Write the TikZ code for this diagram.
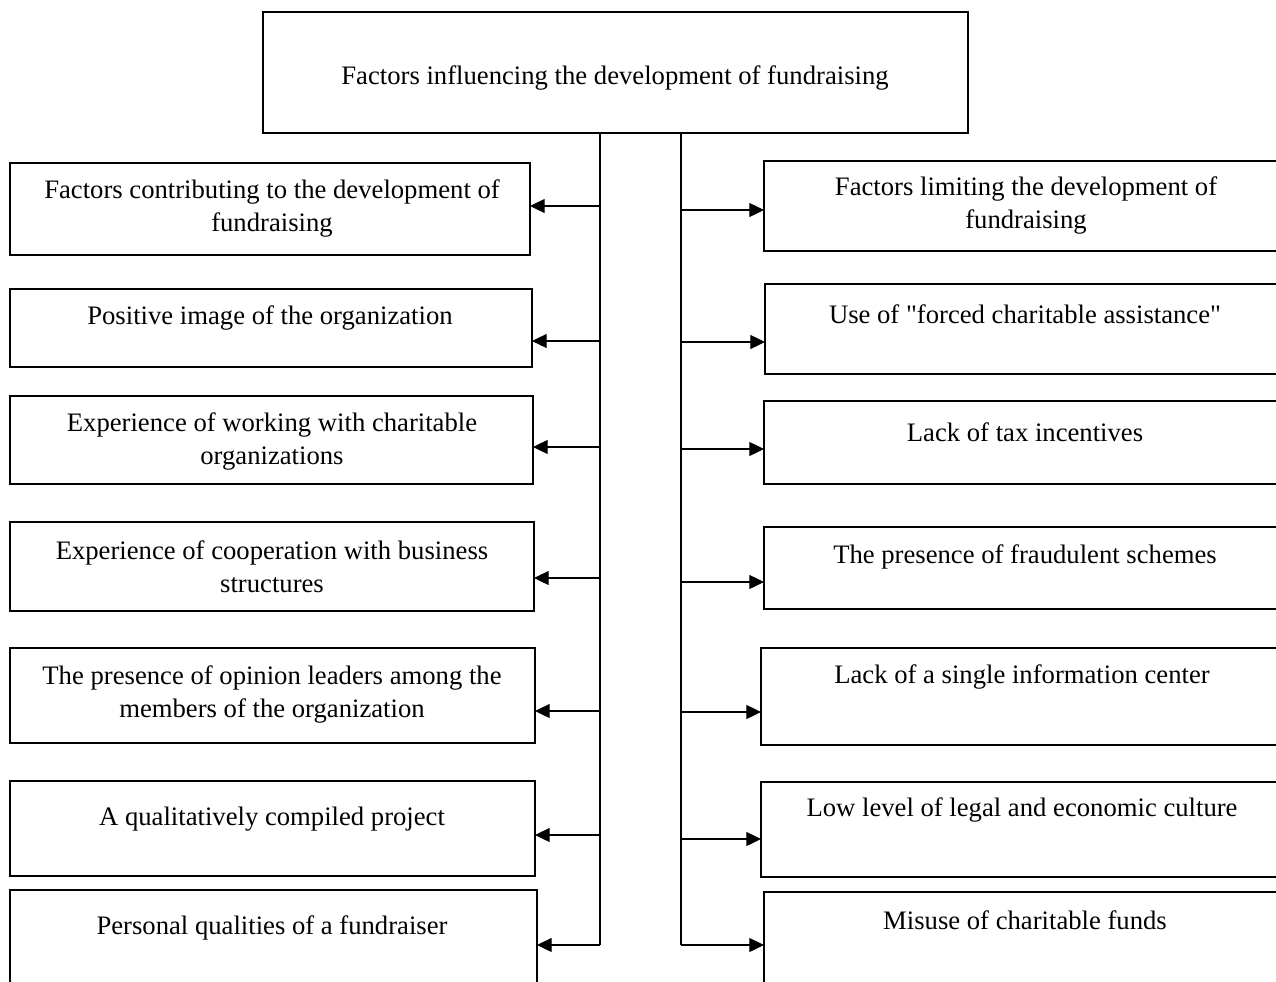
\documentclass[tikz,border=0pt]{standalone}
\usepackage{fontspec}
\setmainfont{Liberation Serif}
\usetikzlibrary{arrows.meta}
\newcommand\bx[5]{\node[box,minimum width=#4*0.75pt,minimum height=#5*0.75pt] (#1) at (#2,#3) {};}
\newcommand\sq{\XeTeXglyph\XeTeXcharglyph"0022\relax}
\begin{document}
\begin{tikzpicture}[x=0.75pt,y=-0.75pt,
 box/.style={draw,line width=1.7pt,anchor=north west,inner sep=0pt,outer sep=0pt},
 txt/.style={align=center,font=\fontsize{20}{24.75}\selectfont,inner sep=0pt},
 conn/.style={line width=0.9pt},
 arr/.style={conn,-{Triangle[length=11pt,width=10.5pt]}}]
\clip (0,0) rectangle (1276,981);
% top box
\bx{top}{263}{12}{705}{121}
\node[txt] (ttop) at (615,78) {Factors influencing the development of fundraising};
% left boxes
\bx{L1}{10}{163}{520}{92}
\bx{L2}{10}{289}{522}{78}
\bx{L3}{10}{396}{523}{88}
\bx{L4}{10}{522}{524}{89}
\bx{L5}{10}{648}{525}{95}
\bx{L6}{10}{781}{525}{95}
\bx{L7}{10}{890}{527}{130}
% right boxes
\bx{R1}{764}{161}{560}{90}
\bx{R2}{765}{284}{560}{90}
\bx{R3}{764}{401}{560}{83}
\bx{R4}{764}{527}{560}{82}
\bx{R5}{761}{648}{560}{97}
\bx{R6}{761}{782}{560}{95}
\bx{R7}{764}{892}{560}{130}
% texts
\node[txt] (tL1) at (272,208) {Factors contributing to the development of\\fundraising};
\node[txt] (tL2) at (270,318) {Positive image of the organization};
\node[txt] (tL3) at (272,441) {Experience of working with charitable\\organizations};
\node[txt] (tL4) at (272,567) {Experience of cooperation with business\\structures};
\node[txt] (tL5) at (272,694) {The presence of opinion leaders among the\\members of the organization};
\node[txt] (tL6) at (272,819) {A qualitatively compiled project};
\node[txt] (tL7) at (272,928) {Personal qualities of a fundraiser};
\node[txt] (tR1) at (1026,205) {Factors limiting the development of\\fundraising};
\node[txt] (tR2) at (1025,314) {Use of \sq forced charitable assistance\sq};
\node[txt] (tR3) at (1025,432) {Lack of tax incentives};
\node[txt] (tR4) at (1025,557) {The presence of fraudulent schemes};
\node[txt] (tR5) at (1022,677) {Lack of a single information center};
\node[txt] (tR6) at (1022,810) {Low level of legal and economic culture};
\node[txt] (tR7) at (1025,920) {Misuse of charitable funds};
% trunk lines
\coordinate (lb) at (600,945);
\coordinate (rb) at (681,945);
\draw[conn] (top.south -| lb) -- (lb);
\draw[conn] (top.south -| rb) -- (rb);
% left arrows
\foreach \n/\y in {1/206,2/341,3/447,4/578,5/711,6/835,7/945}{
  \coordinate (la\n) at (600,\y);
  \draw[arr] (la\n) -- (L\n.east |- la\n);
}
% right arrows
\foreach \n/\y in {1/210,2/342,3/449,4/582,5/712,6/839,7/945}{
  \coordinate (ra\n) at (681,\y);
  \draw[arr] (ra\n) -- (R\n.west |- ra\n);
}
\end{tikzpicture}
\end{document}
